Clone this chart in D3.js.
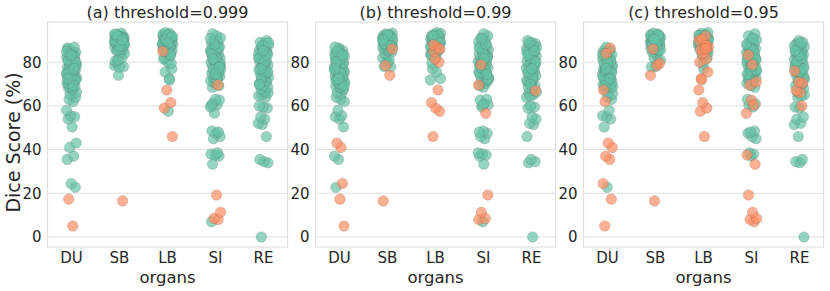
<!DOCTYPE html>
<html>
<head>
<meta charset="utf-8">
<script src="https://cdn.jsdelivr.net/npm/d3@7/dist/d3.min.js"></script>
<style>
body { margin:0; background:#fff; }
text { font-family:"DejaVu Sans", sans-serif; fill:#262626; }
.title { font-size:16px; }
.xlab { font-size:16.5px; }
.ylab { font-size:19px; }
</style>
</head>
<body>
<div id="chart"></div>
<script>
// organs on the x axis
var organs = ["DU", "SB", "LB", "SI", "RE"];
var panelTitles = ["(a) threshold=0.999", "(b) threshold=0.99", "(c) threshold=0.95"];
var yTicks = [0, 20, 40, 60, 80];

// Dice scores (%) per organ
var diceDU = [5, 17.3, 22.7, 24.5, 35.5, 37, 41, 43, 50.3, 54, 55, 55.5, 58, 62, 63, 64, 67.3, 86.5, 84,
  65.5, 66.2, 67.8, 68.4, 69.1, 69.7, 70.3, 70.9, 71.4, 72.2, 72.6, 73.1, 73.8, 74.2, 74.6, 75.3, 75.9,
  76.4, 76.8, 77.3, 77.9, 78.6, 79.2, 79.8, 80.4, 81.1, 81.6, 82.3, 82.8, 83.4, 84.5, 85.2, 85.8, 86.9, 68.9, 72.9, 76.1,
  70.1, 71.8, 73.4, 74.9, 76.3, 77.6, 78.2, 79.5, 80.9, 82.6, 83.9, 84.8, 69.4, 75.1, 80.1, 83.2, 72.4, 77.1];
// how many panels (counting back from c) flag the point in orange: 3 = all, 2 = b & c, 1 = c only, 0 = none
var flagDU = [3, 3, 0, 2, 1, 1, 2, 2, 0, 0, 0, 0, 0, 1, 0, 0, 1, 1, 1,
  0, 0, 0, 0, 0, 0, 0, 0, 0, 0, 0, 0, 0, 0, 0, 0, 0,
  0, 0, 0, 0, 0, 0, 0, 0, 0, 0, 0, 0, 0, 0, 0, 0, 0, 0, 0, 0,
  0, 0, 0, 0, 0, 0, 0, 0, 0, 0, 0, 0, 0, 0, 0, 0, 0, 0];

var diceSB = [16.5, 74, 78.5, 86, 79.5, 78, 77.8, 80.6, 82, 81, 84,
  84.6, 85.2, 85.9, 86.4, 86.8, 87.2, 87.5, 87.9, 88.2, 88.5, 88.8, 89.1, 89.3, 89.6, 89.8, 90.1,
  90.3, 90.6, 90.8, 91.1, 91.3, 91.6, 91.9, 92.2, 92.5, 92.9, 93.3, 88.1, 89.2, 90.4, 91.4, 86.9, 85.6,
  88, 89, 90, 91, 92, 89.9, 90.7, 91.8, 88.6, 87.4, 92.7, 90.2];
var flagSB = [3, 2, 2, 2, 1, 0, 0, 0, 0, 0, 0,
  0, 0, 0, 0, 0, 0, 0, 0, 0, 0, 0, 0, 0, 0, 0, 0,
  0, 0, 0, 0, 0, 0, 0, 0, 0, 0, 0, 0, 0, 0, 0, 0, 0,
  0, 0, 0, 0, 0, 0, 0, 0, 0, 0, 0, 0];

var diceLB = [46, 57.5, 59, 61.5, 67.3, 85, 72.5, 75.5, 77, 80, 81.5, 84, 87, 88, 86, 82, 79.5, 90, 92, 71.9,
  84.4, 85.3, 85.8, 86.6, 87.3, 87.8, 88.3, 88.7, 89.1, 89.5, 89.8, 90.2, 90.5, 90.8, 91.1, 91.4,
  91.7, 92.1, 92.4, 92.8, 93.2, 93.6, 89.4, 90.9, 87.6, 83.1, 88.9,
  88.2, 89.6, 90.6, 91.3, 92.2, 86.2, 87.1, 90, 91.9, 88.8, 84.9, 83.6];
var flagLB = [3, 2, 3, 3, 3, 3, 1, 1, 0, 2, 2, 1, 2, 2, 2, 0, 0, 1, 1, 1,
  0, 0, 0, 0, 0, 0, 1, 0, 0, 0, 0, 0, 1, 0, 0, 0,
  0, 0, 0, 0, 0, 0, 0, 0, 1, 0, 0,
  0, 0, 0, 0, 0, 1, 0, 0, 0, 0, 0, 0];

var diceSI = [7, 8, 8.5, 11.3, 19.2, 33.3, 37, 37.5, 38, 38.5, 45, 46, 47.5, 48.5, 48, 56.6, 59.5, 60.5, 61, 62.7, 63, 60.4,
  69.6, 71, 78.8, 83.3, 68.5, 69.2, 70.4, 71.6, 72.3, 72.9, 73.6, 74.2, 74.9, 75.5, 76.1, 76.8, 77.4,
  78.1, 78.6, 79.3, 79.9, 80.5, 81.2, 81.8, 82.4, 83.1, 83.8, 84.4, 85.1, 85.7, 86.3, 87, 87.8, 88.6,
  89.4, 90.3, 91.2, 92.1, 93, 75.2, 80.8, 85.5,
  73, 76.5, 79.6, 82, 84, 86.6, 88.2, 90.8, 72, 81.5, 77.7, 74.5];
var flagSI = [1, 3, 3, 3, 3, 1, 0, 1, 0, 0, 0, 0, 0, 0, 0, 2, 0, 0, 0, 1, 0, 1,
  3, 1, 2, 1, 0, 0, 0, 0, 0, 0, 0, 0, 0, 0, 0, 0, 0,
  0, 0, 0, 0, 0, 0, 0, 0, 0, 0, 0, 0, 0, 0, 0, 0, 0,
  0, 0, 0, 0, 0, 0, 0, 0,
  0, 0, 0, 0, 0, 0, 0, 0, 0, 0, 0, 0];

var diceRE = [0, 34, 34.5, 35.5, 46, 51.5, 52, 54, 55, 59, 59.5, 60, 64, 65, 66, 67, 70.5, 71, 76,
  64.6, 66.4, 67.8, 68.6, 69.3, 70, 71.7, 72.4, 73.1, 73.8, 74.5, 75.2, 75.9, 76.6, 77.3, 78,
  78.6, 79.3, 80, 80.7, 81.4, 82.1, 82.8, 83.5, 84.2, 84.9, 85.6, 86.3, 87, 87.7, 88.4, 89.1, 89.9, 77.8, 83.9, 86.8,
  72.9, 75.6, 79, 81.8, 84.6, 87.4, 88.8, 80.3, 76.9, 83.2, 85.3, 69.8];
var flagRE = [0, 0, 0, 0, 0, 0, 0, 0, 0, 0, 0, 1, 0, 0, 1, 2, 1, 1, 1,
  0, 0, 0, 0, 0, 0, 0, 0, 0, 0, 0, 0, 0, 0, 0, 0,
  0, 0, 0, 0, 0, 0, 0, 0, 0, 0, 0, 0, 0, 0, 0, 0, 0, 0, 0, 0,
  0, 0, 0, 0, 0, 0, 0, 0, 0, 0, 0, 0];

var diceByOrgan = [diceDU, diceSB, diceLB, diceSI, diceRE];
var flagByOrgan = [flagDU, flagSB, flagLB, flagSI, flagRE];

(function(){
  var W = 830, H = 291;
  var panelLeft = [47.5, 315.5, 583.5], panelW = 240, top = 22, bottom = 247;
  var green = "#66c2a5", orange = "#fc8d62";

  var svg = d3.select("#chart").append("svg").attr("width", W).attr("height", H);

  var y = d3.scaleLinear().domain([-4.6, 98.4]).range([bottom, top]);

  panelTitles.forEach(function(title, p){
    var x = d3.scaleBand().domain(organs).range([0, panelW]);
    var g = svg.append("g").attr("transform", "translate(" + panelLeft[p] + ",0)");

    // grid
    g.selectAll(".grid").data(yTicks).enter().append("line")
      .attr("x1", 0).attr("x2", panelW)
      .attr("y1", function(d){ return y(d); }).attr("y2", function(d){ return y(d); })
      .attr("stroke", "#e1e1e1").attr("stroke-width", 1);

    // frame
    g.append("rect").attr("x", 0).attr("y", top).attr("width", panelW).attr("height", bottom - top)
      .attr("fill", "none").attr("stroke", "#e1e1e1").attr("stroke-width", 1.2);

    // points: green first, orange drawn on top
    var pts = [];
    organs.forEach(function(o, k){
      diceByOrgan[k].forEach(function(v, i){
        var isOrange = flagByOrgan[k][i] >= 3 - p;
        var j = (((i + 1) * 0.6180339887 + p * 0.31 + k * 0.17) % 1) - 0.5;
        pts.push({organ: o, v: v, orange: isOrange, j: j});
      });
    });
    pts.sort(function(a, b){ return (a.orange ? 1 : 0) - (b.orange ? 1 : 0); });
    var bw = x.bandwidth();
    g.selectAll("circle").data(pts).enter().append("circle")
      .attr("cx", function(d){ return x(d.organ) + bw / 2 + d.j * 0.22 * bw; })
      .attr("cy", function(d){ return y(d.v); })
      .attr("r", 5.3)
      .attr("fill", function(d){ return d.orange ? orange : green; })
      .attr("fill-opacity", 0.7)
      .attr("stroke", "#4d4d4d").attr("stroke-opacity", 0.35).attr("stroke-width", 0.5);

    // axes
    var ax = g.append("g").attr("transform", "translate(0," + bottom + ")")
      .call(d3.axisBottom(x).tickSize(0).tickPadding(5));
    ax.select(".domain").remove();
    var ay = g.append("g").call(d3.axisLeft(y).tickValues(yTicks).tickSize(0).tickPadding(6));
    ay.select(".domain").remove();
    g.selectAll(".tick text").attr("fill", "#262626")
      .attr("font-family", "DejaVu Sans").attr("font-size", 15);

    g.append("text").attr("class", "title").attr("x", panelW / 2).attr("y", 18)
      .attr("text-anchor", "middle").text(title);
    g.append("text").attr("class", "xlab").attr("x", panelW / 2).attr("y", 283)
      .attr("text-anchor", "middle").text("organs");
  });

  svg.append("text").attr("class", "ylab")
    .attr("transform", "translate(20," + ((top + bottom) / 2 + 8) + ") rotate(-90)")
    .attr("text-anchor", "middle").text("Dice Score (%)");
})();
</script>
</body>
</html>
